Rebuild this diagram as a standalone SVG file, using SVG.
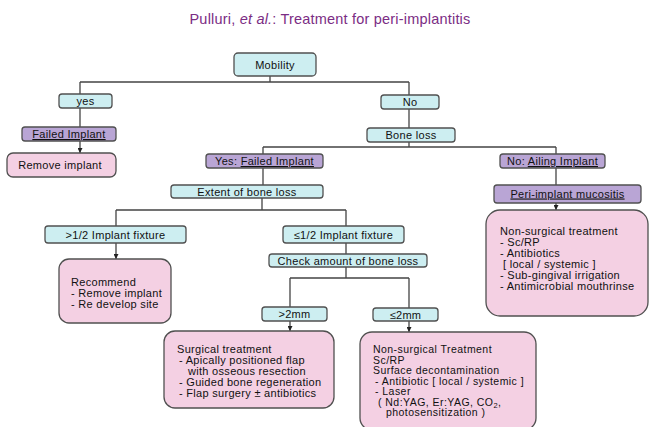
<svg xmlns="http://www.w3.org/2000/svg" width="651" height="427" viewBox="0 0 651 427">
<defs>
<marker id="ah" viewBox="0 0 6 6" refX="6" refY="3" markerWidth="5" markerHeight="5" markerUnits="userSpaceOnUse" orient="auto">
<path d="M0,0 L6,3 L0,6 Z" fill="#222"/>
</marker>
<style>
.c{fill:#cdeef1;stroke:#505050;stroke-width:1.3}
.p{fill:#b9a5d5;stroke:#505050;stroke-width:1.3}
.k{fill:#f4d0e3;stroke:#505050;stroke-width:1.3}
text{font-family:"Liberation Sans",Arial,sans-serif;font-size:11px;fill:#111;letter-spacing:0.3px}
.m{text-anchor:middle}
.u{text-decoration:underline}
.s{font-size:10.5px;letter-spacing:0.45px}
.ln{fill:none;stroke:#444;stroke-width:1.3}
.t{font-size:14.5px;fill:#7b2d84;text-anchor:middle;letter-spacing:0.2px}
</style>
</defs>
<rect width="651" height="427" fill="#fff"/>
<text class="t" x="330" y="24">Pulluri, <tspan font-style="italic">et al.</tspan>: Treatment for peri-implantitis</text>

<g id="connectors">
<path class="ln" d="M270 76 V82 M80 82 H409 M80 82 V94 M409 82 V95"/>
<path class="ln" d="M80 108 V127"/>
<path class="ln" d="M80 141 V153" marker-end="url(#ah)"/>
<path class="ln" d="M409 109 V128"/>
<path class="ln" d="M409 142 V147 M263 147 H556 M263 147 V154 M556 147 V154"/>
<path class="ln" d="M263 168 V185"/>
<path class="ln" d="M262 198 V210 M116 210 H346 M116 210 V226 M346 210 V226"/>
<path class="ln" d="M116 243 V259" marker-end="url(#ah)"/>
<path class="ln" d="M346 243 V254"/>
<path class="ln" d="M346 267 V278 M290 278 H409 M290 278 V307 M409 278 V308"/>
<path class="ln" d="M290 321 V331" marker-end="url(#ah)"/>
<path class="ln" d="M409 321 V332" marker-end="url(#ah)"/>
<path class="ln" d="M556 168 V185"/>
<path class="ln" d="M556 203 V210" marker-end="url(#ah)"/>
</g>

<g id="mobility"><rect class="c" x="234" y="53" width="82" height="23" rx="4"/><text class="m" x="275" y="68.5">Mobility</text></g>
<g id="yes"><rect class="c" x="59" y="94" width="53" height="14" rx="3"/><text class="m" x="85.5" y="105">yes</text></g>
<g id="failed-implant"><rect class="p" x="22" y="127" width="94" height="14" rx="3"/><text class="m u" x="69" y="138">Failed Implant</text></g>
<g id="remove-implant"><rect class="k" x="7" y="153" width="109" height="24" rx="6"/><text class="m" x="60" y="169">Remove implant</text></g>
<g id="no"><rect class="c" x="381" y="95" width="58" height="14" rx="3"/><text class="m" x="410" y="106">No</text></g>
<g id="bone-loss"><rect class="c" x="367" y="128" width="88" height="14" rx="3"/><text class="m" x="411" y="139">Bone loss</text></g>
<g id="yes-failed"><rect class="p" x="206" y="154" width="117" height="14" rx="3"/><text class="m" x="264.5" y="165">Yes:  <tspan class="u">Failed Implant</tspan></text></g>
<g id="no-ailing"><rect class="p" x="500" y="154" width="105" height="14" rx="3"/><text class="m" x="552.5" y="165">No:  <tspan class="u">Ailing Implant</tspan></text></g>
<g id="extent"><rect class="c" x="171" y="185" width="152" height="13" rx="3"/><text class="m" x="247" y="195.5">Extent of bone loss</text></g>
<g id="gt-half"><rect class="c" x="45" y="226" width="141" height="17" rx="3"/><text class="m" x="115.5" y="238.5">&gt;1/2 Implant fixture</text></g>
<g id="le-half"><rect class="c" x="283" y="226" width="121" height="17" rx="3"/><text class="m" x="343.5" y="238.5">≤1/2 Implant fixture</text></g>
<g id="recommend"><rect class="k" x="59" y="259" width="112" height="64" rx="10"/><text x="71" y="286">Recommend</text><text x="71" y="297">- Remove implant</text><text x="71" y="308">- Re develop site</text></g>
<g id="check"><rect class="c" x="269" y="254" width="158" height="13" rx="3"/><text class="m" x="348" y="264.5">Check amount of bone loss</text></g>
<g id="gt2"><rect class="c" x="262" y="307" width="65" height="14" rx="3"/><text class="m" x="294.5" y="318">&gt;2mm</text></g>
<g id="le2"><rect class="c" x="373" y="308" width="65" height="13" rx="3"/><text class="m" x="405.5" y="318.5">≤2mm</text></g>
<g id="surgical"><rect class="k" x="164" y="331" width="170" height="77" rx="11"/>
<text x="177" y="353">Surgical treatment</text>
<text x="179" y="364">- Apically positioned flap</text>
<text x="188" y="375">with osseous resection</text>
<text x="179" y="386">- Guided bone regeneration</text>
<text x="179" y="397">- Flap surgery ± antibiotics</text></g>
<g id="nonsurgical"><rect class="k" x="360" y="332" width="176" height="98" rx="12"/>
<text class="s" x="373" y="353">Non-surgical Treatment</text>
<text class="s" x="373" y="363.5">Sc/RP</text>
<text class="s" x="373" y="374">Surface decontamination</text>
<text class="s" x="375" y="384.5"> - Antibiotic [ local / systemic ]</text>
<text class="s" x="375" y="395"> - Laser</text>
<text class="s" x="378" y="405.5">( Nd:YAG, Er:YAG, CO<tspan font-size="7.5" dy="2">2</tspan><tspan dy="-2">,</tspan></text>
<text class="s" x="386" y="416">photosensitization )</text></g>
<g id="mucositis"><rect class="p" x="494" y="185" width="147" height="18" rx="3"/><text class="m u" x="567.5" y="197.5">Peri-implant mucositis</text></g>
<g id="nonsurgical-right"><rect class="k" x="486" y="210" width="162" height="106" rx="14"/>
<text x="500" y="235">Non-surgical treatment</text>
<text x="500" y="246">- Sc/RP</text>
<text x="500" y="256.5">- Antibiotics</text>
<text x="503" y="267.5">[ local / systemic ]</text>
<text x="500" y="278.5">- Sub-gingival irrigation</text>
<text x="500" y="290">- Antimicrobial mouthrinse</text></g>
</svg>
